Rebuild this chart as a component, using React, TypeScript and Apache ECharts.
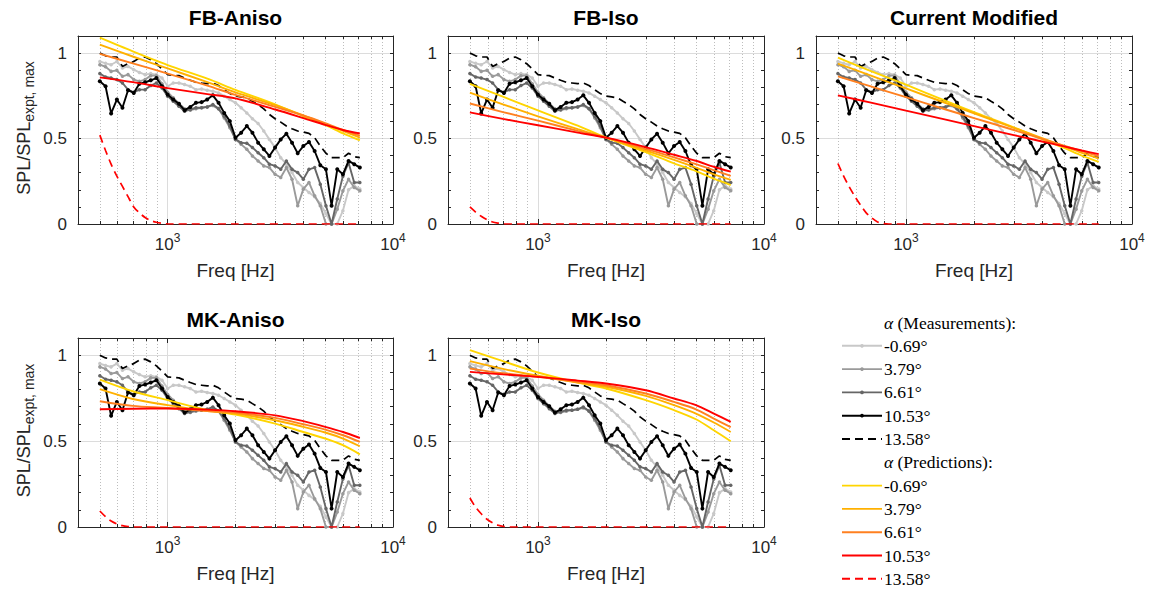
import React, { useEffect, useRef } from 'react';
import * as echarts from 'echarts';

// ---------- data ----------
const FREQ = [500, 530, 561, 595, 630, 667, 707, 749, 794, 841, 891, 944, 1000, 1059, 1122, 1189, 1260, 1335, 1414, 1498, 1587, 1682, 1782, 1888, 2000, 2119, 2245, 2378, 2520, 2670, 2828, 2997, 3175, 3364, 3564, 3776, 4000, 4238, 4490, 4757, 5040, 5339, 5657, 5993, 6350, 6727, 7127];

const MEAS_M069 = [0.951, 0.94, 0.932, 0.951, 0.913, 0.922, 0.903, 0.887, 0.874, 0.88, 0.874, 0.854, 0.806, 0.825, 0.825, 0.816, 0.806, 0.786, 0.79, 0.783, 0.777, 0.767, 0.748, 0.728, 0.709, 0.68, 0.65, 0.616, 0.588, 0.544, 0.495, 0.447, 0.388, 0.35, 0.301, 0.243, 0.214, 0.184, 0.16, 0.12, 0.06, 0.0, 0.0, 0.078, 0.2, 0.223, 0.204];
const MEAS_379 = [0.932, 0.92, 0.893, 0.899, 0.864, 0.874, 0.845, 0.835, 0.845, 0.868, 0.868, 0.821, 0.771, 0.738, 0.705, 0.674, 0.666, 0.674, 0.68, 0.685, 0.693, 0.674, 0.621, 0.563, 0.495, 0.466, 0.437, 0.398, 0.369, 0.34, 0.33, 0.291, 0.272, 0.33, 0.262, 0.107, 0.204, 0.243, 0.165, 0.107, 0.0, 0.0, 0.087, 0.194, 0.262, 0.214, 0.194];
const MEAS_661 = [0.88, 0.86, 0.854, 0.845, 0.825, 0.786, 0.77, 0.786, 0.786, 0.81, 0.825, 0.796, 0.748, 0.718, 0.689, 0.66, 0.67, 0.68, 0.68, 0.685, 0.699, 0.675, 0.631, 0.573, 0.495, 0.476, 0.472, 0.447, 0.417, 0.388, 0.35, 0.34, 0.32, 0.369, 0.32, 0.301, 0.262, 0.32, 0.33, 0.233, 0.107, 0.0, 0.146, 0.28, 0.359, 0.243, 0.243];
const MEAS_1053 = [0.835, 0.806, 0.647, 0.728, 0.68, 0.783, 0.767, 0.821, 0.829, 0.841, 0.854, 0.806, 0.757, 0.728, 0.703, 0.666, 0.685, 0.709, 0.713, 0.728, 0.753, 0.709, 0.65, 0.602, 0.505, 0.534, 0.573, 0.534, 0.476, 0.437, 0.398, 0.447, 0.495, 0.528, 0.476, 0.414, 0.456, 0.48, 0.427, 0.344, 0.32, 0.107, 0.32, 0.291, 0.369, 0.35, 0.33];
const MEAS_1358 = [1.0, 0.984, 0.977, 0.977, 0.922, 0.938, 0.951, 0.971, 0.977, 0.961, 0.938, 0.907, 0.874, 0.87, 0.868, 0.854, 0.841, 0.829, 0.825, 0.821, 0.825, 0.81, 0.786, 0.763, 0.748, 0.744, 0.738, 0.718, 0.699, 0.674, 0.641, 0.616, 0.596, 0.573, 0.557, 0.544, 0.538, 0.53, 0.505, 0.456, 0.414, 0.388, 0.388, 0.388, 0.414, 0.394, 0.388];

const PRED_FREQ = [500, 700, 1000, 1500, 2000, 3000, 4000, 5000, 6000, 7127];
const DASH_FREQ = [500, 530, 561, 595, 630, 667, 707, 749, 794, 841, 891, 944, 1000, 2000, 4000, 7127];

// FB-Aniso
const FBA_M069 = [1.09, 1.01, 0.93, 0.85, 0.785, 0.7, 0.63, 0.58, 0.53, 0.49];
const FBA_379 = [1.05, 0.98, 0.91, 0.83, 0.77, 0.695, 0.635, 0.585, 0.545, 0.505];
const FBA_661 = [0.995, 0.94, 0.88, 0.81, 0.755, 0.685, 0.635, 0.59, 0.55, 0.517];
const FBA_1053 = [0.858, 0.83, 0.795, 0.76, 0.735, 0.67, 0.62, 0.58, 0.55, 0.53];
const FBA_1358 = [0.52, 0.43, 0.35, 0.28, 0.22, 0.16, 0.1, 0.065, 0.038, 0.02, 0.01, 0.004, 0, 0, 0, 0];
// FB-Iso
const FBI_M069 = [0.82, 0.745, 0.665, 0.575, 0.505, 0.42, 0.355, 0.31, 0.265, 0.228];
const FBI_379 = [0.769, 0.7, 0.63, 0.555, 0.505, 0.43, 0.375, 0.33, 0.29, 0.258];
const FBI_661 = [0.705, 0.655, 0.605, 0.545, 0.505, 0.44, 0.39, 0.35, 0.315, 0.281];
const FBI_1053 = [0.653, 0.615, 0.578, 0.535, 0.505, 0.45, 0.405, 0.37, 0.335, 0.306];
const FBI_1358 = [0.1, 0.07, 0.045, 0.025, 0.012, 0.005, 0, 0, 0, 0, 0, 0, 0, 0, 0, 0];
// Current Modified
const CM_M069 = [0.973, 0.895, 0.815, 0.72, 0.655, 0.565, 0.496, 0.445, 0.4, 0.364];
const CM_379 = [0.938, 0.868, 0.793, 0.708, 0.648, 0.563, 0.503, 0.455, 0.416, 0.383];
const CM_661 = [0.864, 0.805, 0.742, 0.67, 0.62, 0.55, 0.498, 0.458, 0.426, 0.397];
const CM_1053 = [0.753, 0.71, 0.663, 0.611, 0.573, 0.52, 0.483, 0.454, 0.43, 0.409];
const CM_1358 = [0.354, 0.28, 0.218, 0.16, 0.11, 0.065, 0.035, 0.012, 0.003, 0, 0, 0, 0, 0, 0, 0];
// MK-Aniso
const MKA_M069 = [0.858, 0.79, 0.738, 0.68, 0.654, 0.602, 0.553, 0.515, 0.476, 0.423];
const MKA_379 = [0.802, 0.745, 0.709, 0.675, 0.66, 0.621, 0.583, 0.55, 0.515, 0.47];
const MKA_661 = [0.732, 0.705, 0.693, 0.675, 0.666, 0.635, 0.598, 0.567, 0.534, 0.495];
const MKA_1053 = [0.685, 0.688, 0.69, 0.683, 0.674, 0.65, 0.616, 0.583, 0.553, 0.518];
const MKA_1358 = [0.093, 0.06, 0.035, 0.018, 0.008, 0.003, 0, 0, 0, 0, 0, 0, 0, 0, 0, 0];
// MK-Iso
const MKI_M069 = [1.029, 0.965, 0.899, 0.84, 0.806, 0.738, 0.68, 0.627, 0.563, 0.499];
const MKI_379 = [0.965, 0.92, 0.88, 0.84, 0.816, 0.763, 0.709, 0.66, 0.608, 0.553];
const MKI_661 = [0.922, 0.895, 0.874, 0.845, 0.825, 0.777, 0.728, 0.685, 0.631, 0.581];
const MKI_1053 = [0.903, 0.888, 0.874, 0.852, 0.835, 0.796, 0.748, 0.709, 0.66, 0.612];
const MKI_1358 = [0.169, 0.115, 0.077, 0.045, 0.024, 0.01, 0.003, 0, 0, 0, 0, 0, 0, 0, 0, 0];

const ANGLES = ['-0.69°', '3.79°', '6.61°', '10.53°', '13.58°'];
const MAJOR_FREQ = [1000, 10000];
const MINOR_FREQ = [500, 600, 700, 800, 900, 2000, 3000, 4000, 5000, 6000, 7000, 8000, 9000];
const Y_LABELS = [0, 0.5, 1];
const Y_TICKS = [0, 0.1, 0.2, 0.3, 0.4, 0.5, 0.6, 0.7, 0.8, 0.9, 1.0];
const Y_GRID = [0.5, 1];

// ---------- styles / layout ----------
const MEAS_COLORS = ['#c8c8c8', '#9a9a9a', '#666666', '#000000', '#000000'];
const PRED_COLORS = ['#ffd500', '#ffb000', '#ff8020', '#ff0000', '#ff0000'];
const SANS = "'Liberation Sans', Arial, sans-serif";
const SERIF = "'Liberation Serif', 'DejaVu Serif', serif";
const AX = '#262626';

const PANELS = [
  { title: 'FB-Aniso', left: 78, top: 36, width: 315, height: 188, yName: true, pred: [FBA_M069, FBA_379, FBA_661, FBA_1053], dash: FBA_1358 },
  { title: 'FB-Iso', left: 448, top: 36, width: 316, height: 188, yName: false, pred: [FBI_M069, FBI_379, FBI_661, FBI_1053], dash: FBI_1358 },
  { title: 'Current Modified', left: 816, top: 36, width: 316, height: 188, yName: false, pred: [CM_M069, CM_379, CM_661, CM_1053], dash: CM_1358 },
  { title: 'MK-Aniso', left: 78, top: 338, width: 315, height: 189, yName: true, pred: [MKA_M069, MKA_379, MKA_661, MKA_1053], dash: MKA_1358 },
  { title: 'MK-Iso', left: 448, top: 338, width: 316, height: 189, yName: false, pred: [MKI_M069, MKI_379, MKI_661, MKI_1053], dash: MKI_1358 },
];

const lg = (f: number) => Math.log10(f);
const XMIN = lg(400);
const XMAX = lg(10000);
const MEAS = [MEAS_M069, MEAS_379, MEAS_661, MEAS_1053, MEAS_1358];

function buildOption() {
  const grid: any[] = [];
  const xAxis: any[] = [];
  const yAxis: any[] = [];
  const series: any[] = [];
  const graphic: any[] = [];

  PANELS.forEach((p, g) => {
    grid.push({ left: p.left, top: p.top, width: p.width, height: p.height, show: false });
    const xBase = { gridIndex: g, type: 'value', min: XMIN, max: XMAX, splitArea: { show: false } };
    xAxis.push({
      ...xBase, position: 'bottom',
      axisLine: { show: true, onZero: false, lineStyle: { color: AX, width: 1 } },
      axisTick: { show: true, inside: true, length: 5, customValues: MAJOR_FREQ.map(lg), lineStyle: { color: AX } },
      axisLabel: {
        show: true, customValues: MAJOR_FREQ.map(lg), margin: 8, color: AX,
        formatter: (v: number) => '{b|10}{s|' + Math.round(v) + '}',
        rich: {
          b: { fontSize: 17, fontFamily: SANS, color: AX, lineHeight: 24 },
          s: { fontSize: 12, fontFamily: SANS, color: AX, lineHeight: 12, verticalAlign: 'top' },
        },
      },
      splitLine: { show: true, lineStyle: { color: '#dcdcdc', width: 1 } },
      name: 'Freq [Hz]', nameLocation: 'middle', nameGap: 37,
      nameTextStyle: { fontSize: 19, fontFamily: SANS, color: AX },
    });
    xAxis.push({
      ...xBase, position: 'bottom',
      axisLine: { show: false, onZero: false },
      axisTick: { show: true, inside: true, length: 3, customValues: MINOR_FREQ.map(lg), lineStyle: { color: AX } },
      axisLabel: { show: false },
      splitLine: { show: true, lineStyle: { color: '#bdbdbd', width: 1, type: [1, 2] } },
    });
    xAxis.push({
      ...xBase, position: 'top',
      axisLine: { show: true, onZero: false, lineStyle: { color: AX, width: 1 } },
      axisTick: { show: true, inside: true, length: 5, customValues: MAJOR_FREQ.map(lg), lineStyle: { color: AX } },
      axisLabel: { show: false }, splitLine: { show: false },
    });
    xAxis.push({
      ...xBase, position: 'top',
      axisLine: { show: false, onZero: false },
      axisTick: { show: true, inside: true, length: 3, customValues: MINOR_FREQ.map(lg), lineStyle: { color: AX } },
      axisLabel: { show: false }, splitLine: { show: false },
    });

    const yBase = { gridIndex: g, type: 'value', min: 0, max: 1.1 };
    yAxis.push({
      ...yBase, position: 'left',
      axisLine: { show: true, onZero: false, lineStyle: { color: AX, width: 1 } },
      axisTick: { show: true, inside: true, length: 3, customValues: Y_TICKS, lineStyle: { color: AX } },
      axisLabel: { show: true, customValues: Y_LABELS, margin: 11, fontSize: 17, fontFamily: SANS, color: AX, formatter: (v: number) => String(v) },
      splitLine: { show: false },
    });
    yAxis.push({
      ...yBase, position: 'left',
      axisLine: { show: false, onZero: false },
      axisTick: { show: false, customValues: Y_GRID },
      axisLabel: { show: false },
      splitLine: { show: true, lineStyle: { color: '#dcdcdc', width: 1 } },
    });
    yAxis.push({
      ...yBase, position: 'right',
      axisLine: { show: true, onZero: false, lineStyle: { color: AX, width: 1 } },
      axisTick: { show: true, inside: true, length: 3, customValues: Y_TICKS, lineStyle: { color: AX } },
      axisLabel: { show: false }, splitLine: { show: false },
    });

    const xi = g * 4;
    const yi = g * 3;
    MEAS.forEach((arr, k) => {
      const dashed = k === 4;
      series.push({
        type: 'line', name: 'meas ' + ANGLES[k], xAxisIndex: xi, yAxisIndex: yi, silent: true,
        data: FREQ.map((f, i) => [lg(f), arr[i]]),
        symbol: dashed ? 'none' : 'circle', showSymbol: !dashed, symbolSize: k === 3 ? 4 : 3.5,
        itemStyle: { color: MEAS_COLORS[k] },
        lineStyle: { color: MEAS_COLORS[k], width: dashed ? 1.7 : 1.9, type: dashed ? [8, 5] : 'solid' },
        z: 3 + k,
      });
    });
    p.pred.forEach((arr, k) => {
      series.push({
        type: 'line', name: 'pred ' + ANGLES[k], xAxisIndex: xi, yAxisIndex: yi, silent: true,
        data: PRED_FREQ.map((f, i) => [lg(f), arr[i]]), smooth: 0.3,
        symbol: 'none', showSymbol: false,
        lineStyle: { color: PRED_COLORS[k], width: 1.9 },
        z: 10 + k,
      });
    });
    series.push({
      type: 'line', name: 'pred ' + ANGLES[4], xAxisIndex: xi, yAxisIndex: yi, silent: true,
      data: DASH_FREQ.map((f, i) => [lg(f), p.dash[i]]), smooth: 0.3,
      symbol: 'none', showSymbol: false,
      lineStyle: { color: PRED_COLORS[4], width: 1.7, type: [8, 5] },
      z: 15,
    });

    graphic.push({
      type: 'text', x: p.left + p.width / 2, y: p.top - 19,
      style: { text: p.title, fontSize: 21, fontWeight: 'bold', fontFamily: SANS, fill: '#000', align: 'center', verticalAlign: 'middle' },
    });
    if (p.yName) {
      graphic.push({
        type: 'text', x: 24, y: p.top + p.height / 2 - 2, rotation: Math.PI / 2,
        style: {
          text: '{m|SPL/SPL}{s|expt, max}', align: 'center', verticalAlign: 'middle',
          rich: {
            m: { fontSize: 18, fontFamily: SANS, fill: AX, lineHeight: 24 },
            s: { fontSize: 14, fontFamily: SANS, fill: AX, lineHeight: 14, verticalAlign: 'bottom' },
          },
        },
      });
    }
  });

  // legend
  const LX1 = 842, LX2 = 882, TX = 884;
  const rowY = (r: number) => 322.5 + r * 23.3;
  const FS = 17.5;
  const header = (r: number, word: string) => ({
    type: 'text', x: TX, y: rowY(r),
    style: {
      text: '{a|α} ' + word, align: 'left', verticalAlign: 'middle', fontSize: FS, fontFamily: SERIF, fill: '#000',
      rich: { a: { fontSize: FS, fontFamily: SERIF, fontStyle: 'italic', fill: '#000' } },
    },
  });
  graphic.push(header(0, '(Measurements):'));
  graphic.push(header(6, '(Predictions):'));
  ANGLES.forEach((a, k) => {
    const r1 = 1 + k;
    const dashed = k === 4;
    graphic.push({
      type: 'line', shape: { x1: LX1, y1: rowY(r1), x2: LX2, y2: rowY(r1) },
      style: { stroke: MEAS_COLORS[k], lineWidth: 1.9, lineDash: dashed ? [8, 5] : null },
    });
    if (!dashed) graphic.push({ type: 'circle', shape: { cx: (LX1 + LX2) / 2, cy: rowY(r1), r: 1.9 }, style: { fill: MEAS_COLORS[k] } });
    graphic.push({ type: 'text', x: TX, y: rowY(r1), style: { text: a, align: 'left', verticalAlign: 'middle', fontSize: FS, fontFamily: SERIF, fill: '#000' } });
    const r2 = 7 + k;
    graphic.push({
      type: 'line', shape: { x1: LX1, y1: rowY(r2), x2: LX2, y2: rowY(r2) },
      style: { stroke: PRED_COLORS[k], lineWidth: 1.9, lineDash: dashed ? [8, 5] : null },
    });
    graphic.push({ type: 'text', x: TX, y: rowY(r2), style: { text: a, align: 'left', verticalAlign: 'middle', fontSize: FS, fontFamily: SERIF, fill: '#000' } });
  });

  return { animation: false, backgroundColor: '#ffffff', grid, xAxis, yAxis, series, graphic };
}

export default function App() {
  const ref = useRef<HTMLDivElement>(null);
  useEffect(() => {
    if (!ref.current) return;
    const chart = echarts.init(ref.current, undefined, { renderer: 'svg' });
    chart.setOption(buildOption() as any);
    return () => chart.dispose();
  }, []);
  return <div ref={ref} style={{ position: 'absolute', left: 0, top: 0, width: 1155, height: 594, background: '#fff' }} />;
}
